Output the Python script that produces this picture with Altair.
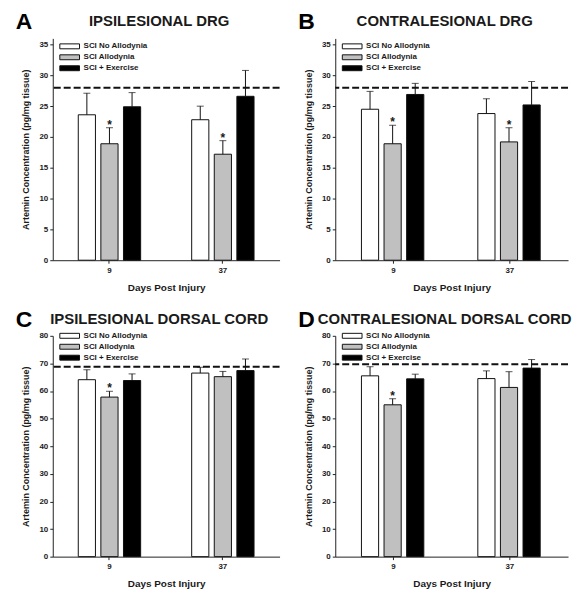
import altair as alt
import pandas as pd

days = ["9", "37"]
groups = ["SCI No Allodynia", "SCI Allodynia", "SCI + Exercise"]
bar_colors = ["#ffffff", "#c0c0c0", "#000000"]

letters = ["A", "B", "C", "D"]
titles = ["IPSILESIONAL DRG", "CONTRALESIONAL DRG",
          "IPSILESIONAL DORSAL CORD", "CONTRALESIONAL DORSAL CORD"]

# order: day 9 (no allodynia, allodynia, exercise), day 37 (same)
mean_A = [23.6, 18.9, 24.9, 22.8, 17.2, 26.6]
err_A = [3.5, 2.6, 2.3, 2.2, 2.2, 4.2]
star_A = [0, 1, 0, 0, 1, 0]

mean_B = [24.5, 18.9, 26.9, 23.8, 19.2, 25.2]
err_B = [2.9, 3.0, 1.8, 2.4, 2.3, 3.8]
star_B = [0, 1, 0, 0, 1, 0]

mean_C = [64.1, 57.8, 63.8, 66.5, 65.2, 67.4]
err_C = [3.6, 2.1, 2.4, 2.1, 1.9, 4.2]
star_C = [0, 1, 0, 0, 0, 0]

mean_D = [65.5, 55.0, 64.4, 64.5, 61.3, 68.3]
err_D = [3.3, 2.2, 1.7, 2.8, 5.7, 3.1]
star_D = [0, 1, 0, 0, 0, 0]

sham_levels = [28.0, 28.0, 68.8, 69.7]
y_max = [36, 36, 80, 80]
y_ticks = [[0, 5, 10, 15, 20, 25, 30, 35], [0, 5, 10, 15, 20, 25, 30, 35],
           [0, 10, 20, 30, 40, 50, 60, 70, 80], [0, 10, 20, 30, 40, 50, 60, 70, 80]]

means = [mean_A, mean_B, mean_C, mean_D]
errs = [err_A, err_B, err_C, err_D]
stars = [star_A, star_B, star_C, star_D]

FONT = "Liberation Sans"
TXT = "#1a1a1a"


def panel(i, w, h, legend_y):
    rows = []
    k = 0
    for d in days:
        for g in groups:
            rows.append({"day": d, "group": g, "mean": means[i][k],
                         "upper": means[i][k] + errs[i][k], "star": stars[i][k]})
            k += 1
    df = pd.DataFrame(rows)
    base = alt.Chart(df)
    x = alt.X("day:N", sort=days,
              scale=alt.Scale(paddingInner=0.45, paddingOuter=0.225),
              axis=alt.Axis(title="Days Post Injury", labelAngle=0, labelFontSize=8,
                            labelFontWeight="bold", titleFontSize=10, titleFontWeight="bold",
                            tickSize=3, labelPadding=3, titlePadding=8,
                            domainColor="#222", tickColor="#222",
                            labelColor=TXT, titleColor=TXT))
    xo = alt.XOffset("group:N", sort=groups, scale=alt.Scale(paddingInner=0.24))
    yscale = alt.Scale(domain=[0, y_max[i]], nice=False)
    yaxis = alt.Axis(title="Artemin Concentration (pg/mg tissue)", values=y_ticks[i],
                     labelFontSize=8, labelFontWeight="bold", titleFontSize=9,
                     titleFontWeight="bold", tickSize=3, labelPadding=2, titlePadding=8,
                     grid=False, labelOverlap=False, domainColor="#222", tickColor="#222",
                     labelColor=TXT, titleColor=TXT)
    y_mean = alt.Y("mean:Q", scale=yscale, axis=yaxis)
    y_upper = alt.Y("upper:Q", scale=yscale, axis=yaxis)
    bars = base.mark_bar(stroke="#111", strokeWidth=1).encode(
        x=x, xOffset=xo, y=y_mean,
        fill=alt.Fill("group:N", sort=groups,
                      scale=alt.Scale(domain=groups, range=bar_colors),
                      legend=alt.Legend(title=None, orient="none", legendX=11, legendY=legend_y,
                                        symbolType="M-1.8,-0.45H1.8V0.45H-1.8Z",
                                        symbolSize=121, symbolStrokeColor="#111",
                                        symbolStrokeWidth=1, symbolOpacity=1,
                                        labelFontSize=8, labelFontWeight="bold",
                                        labelFont=FONT, labelColor=TXT,
                                        labelOffset=8, rowPadding=0, padding=0)))
    rule = base.mark_rule(color="#111", strokeWidth=1).encode(
        x=x, xOffset=xo, y=y_mean, y2="upper:Q")
    caps = base.mark_tick(color="#111", size=7, thickness=1, orient="horizontal").encode(
        x=x, xOffset=xo, y=y_upper)
    star = base.transform_filter("datum.star == 1").mark_text(
        text="*", fontSize=12, fontWeight="bold", baseline="alphabetic", dy=1,
        color=TXT, font=FONT).encode(
        x=x, xOffset=xo, y=y_upper)
    sham = alt.Chart(pd.DataFrame({"level": [sham_levels[i]]})).mark_rule(
        color="#111", strokeWidth=2, strokeDash=[7, 3]).encode(
        y=alt.Y("level:Q", scale=yscale, axis=yaxis))
    letter = alt.Chart(pd.DataFrame({"t": [letters[i]]})).mark_text(
        fontSize=23, fontWeight="bold", align="center", baseline="alphabetic",
        font=FONT, color="#000").encode(
        text="t:N", x=alt.value(-29), y=alt.value(-9))
    ttl = alt.Chart(pd.DataFrame({"t": [titles[i]]})).mark_text(
        fontSize=15, fontWeight="bold", align="center", baseline="alphabetic",
        font=FONT, color=TXT).encode(
        text="t:N", x=alt.value(w / 2 - 7), y=alt.value(-12))
    return alt.layer(bars, rule, caps, star, sham, letter, ttl).properties(width=w, height=h)


top = alt.hconcat(panel(0, 228, 223, 2), panel(1, 234, 223, 2), spacing=17).resolve_scale(
    fill="independent").resolve_legend(fill="independent")
bottom = alt.hconcat(panel(2, 228, 222, -6), panel(3, 234, 222, -6), spacing=17).resolve_scale(
    fill="independent").resolve_legend(fill="independent")

chart = alt.vconcat(top, bottom, spacing=17).resolve_scale(
    fill="independent").resolve_legend(fill="independent").properties(
    padding={"left": 7, "top": 2, "right": 0, "bottom": 0}
).configure(font=FONT).configure_view(stroke=None)

chart.save("out.html", embed_options={"renderer": "svg", "actions": False})
